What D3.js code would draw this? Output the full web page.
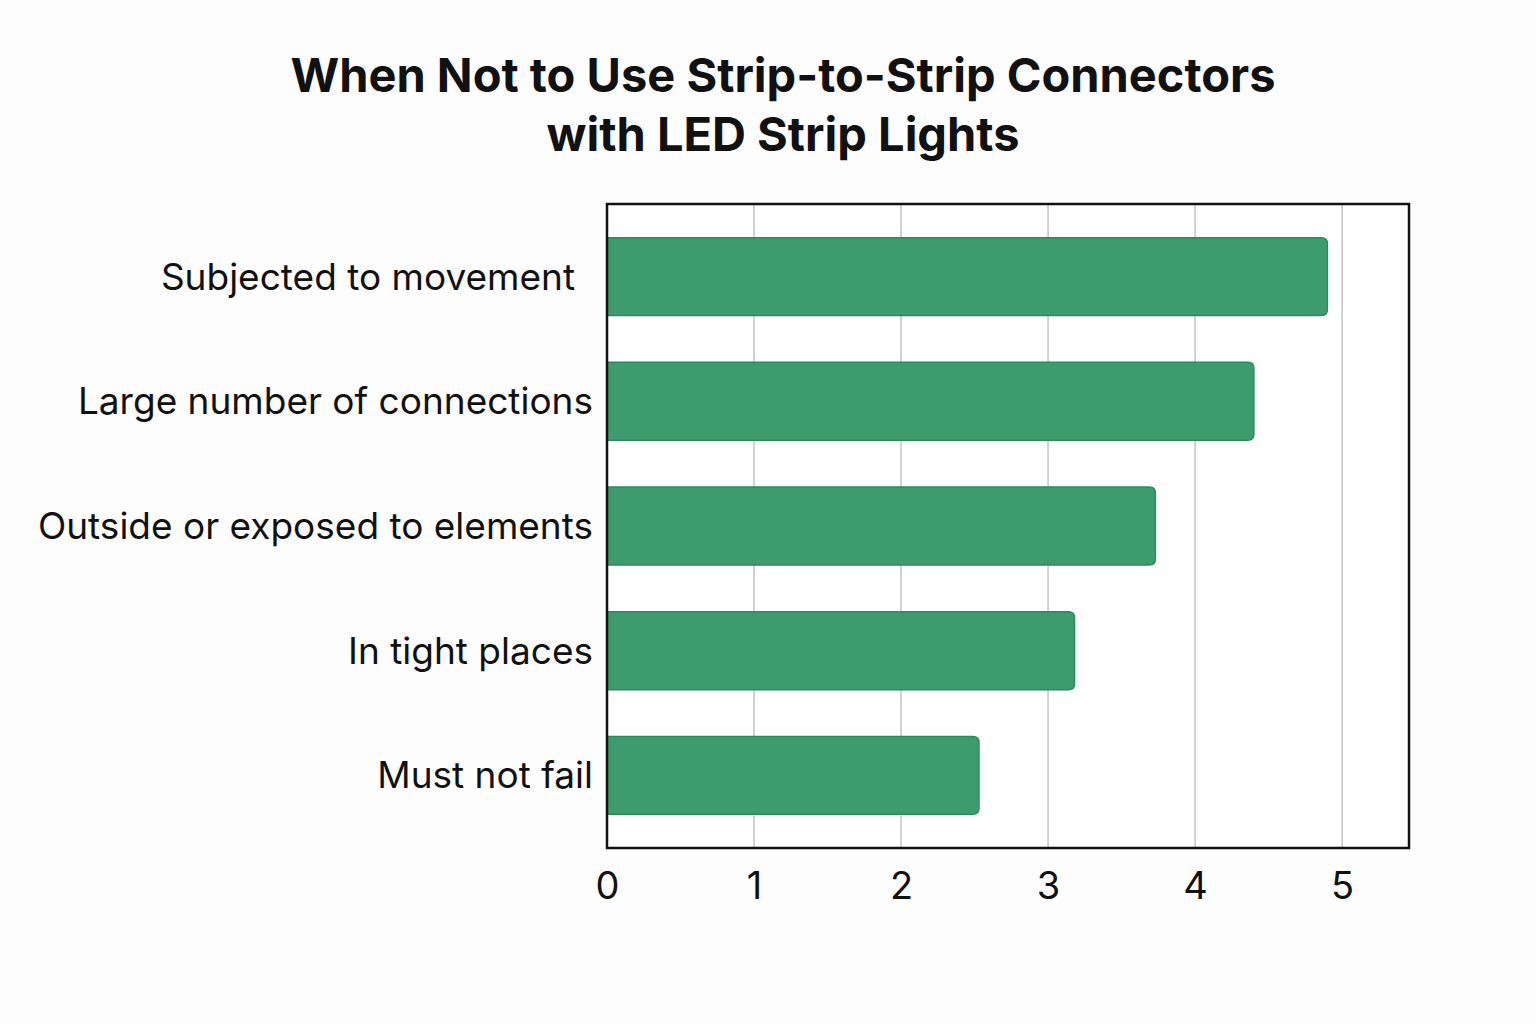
<!DOCTYPE html>
<html><head><meta charset="utf-8">
<script src="https://cdn.jsdelivr.net/npm/d3@7"></script>
<style>body{margin:0;background:#fdfdfd;}svg{display:block;font-family:Inter,"Noto Sans",sans-serif;}</style>
</head><body><svg id="c" width="1536" height="1024"></svg>
<script>
const titleLines = ["When Not to Use Strip-to-Strip Connectors", "with LED Strip Lights"];
const categories = ["Subjected to movement", "Large number of connections", "Outside or exposed to elements", "In tight places", "Must not fail"];
const values = [4.9, 4.4, 3.73, 3.18, 2.53];
const xTicks = [0, 1, 2, 3, 4, 5];

const svg = d3.select("#c");
const L = 607, R = 1409, T = 204, B = 848;
const x = d3.scaleLinear().domain([0, 5.455]).range([L, R]);
const y = d3.scaleBand().domain(categories).range([T, B]).paddingInner(0.375).paddingOuter(0.27);

svg.append("rect").attr("width",1536).attr("height",1024).attr("fill","#fdfdfd");

svg.selectAll(".t").data(titleLines).join("text")
  .attr("x", 783).attr("y", (d,i)=>92 + i*59).attr("text-anchor","middle")
  .attr("font-size", 47).attr("font-weight", 700).attr("fill","#111").text(d=>d);

svg.append("rect").attr("x",L).attr("y",T).attr("width",R-L).attr("height",B-T).attr("fill","#fff");

svg.append("g").selectAll("line").data(xTicks.filter(d=>d>0)).join("line")
  .attr("x1",d=>x(d)).attr("x2",d=>x(d)).attr("y1",T).attr("y2",B)
  .attr("stroke","#c4c4c4").attr("stroke-width",1.5);

const r = 6;
svg.append("g").selectAll("path").data(values).join("path")
  .attr("d",(d,i)=>{
    const x0 = x(0), x1 = x(d), y0 = y(categories[i]), h = y.bandwidth();
    return `M${x0},${y0}H${x1-r}Q${x1},${y0} ${x1},${y0+r}V${y0+h-r}Q${x1},${y0+h} ${x1-r},${y0+h}H${x0}Z`;
  })
  .attr("fill","#3e9b6d").attr("stroke","#2c8a5b").attr("stroke-width",1.5);

svg.append("rect").attr("x",L).attr("y",T).attr("width",R-L).attr("height",B-T)
  .attr("fill","none").attr("stroke","#111").attr("stroke-width",2.5);

svg.append("g").selectAll("text").data(categories).join("text")
  .attr("x", (d,i)=> i===0 ? 575 : 593).attr("y", d=>y(d)+y.bandwidth()/2).attr("dy","0.35em")
  .attr("text-anchor","end").attr("font-size",37).attr("fill","#111").text(d=>d);

const xAxis = svg.append("g").attr("transform",`translate(0,${B})`)
  .call(d3.axisBottom(x).tickValues(xTicks).tickFormat(d3.format("d")).tickSize(0).tickPadding(24));
xAxis.select(".domain").remove();
xAxis.selectAll("text").attr("font-size",38).attr("fill","#111").attr("font-family","Inter, sans-serif");
</script></body></html>
